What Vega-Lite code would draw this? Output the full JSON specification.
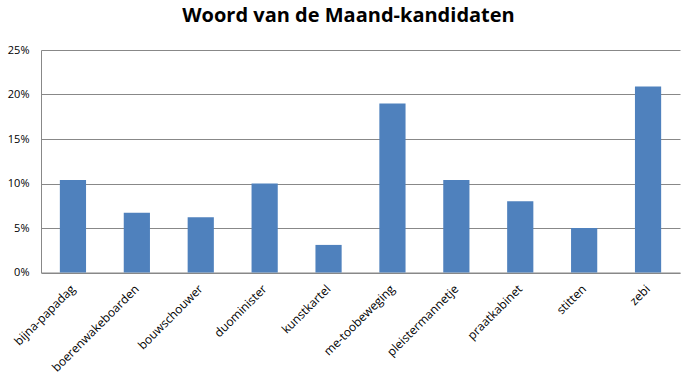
{
  "$schema": "https://vega.github.io/schema/vega-lite/v6.json",
  "width": 639,
  "height": 222.5,
  "autosize": {"type": "none"},
  "padding": {"left": 41, "top": 50, "right": 15, "bottom": 105},
  "background": "white",
  "title": {
    "text": "Woord van de Maand-kandidaten",
    "font": "Open Sans",
    "fontSize": 20,
    "fontWeight": "bold",
    "color": "#000000",
    "anchor": "middle",
    "dx": -12,
    "offset": 18
  },
  "data": {
    "values": [
      {"woord": "bijna-papadag", "pct": 0.104},
      {"woord": "boerenwakeboarden", "pct": 0.067},
      {"woord": "bouwschouwer", "pct": 0.062},
      {"woord": "duominister", "pct": 0.100},
      {"woord": "kunstkartel", "pct": 0.031},
      {"woord": "me-toobeweging", "pct": 0.190},
      {"woord": "pleistermannetje", "pct": 0.104},
      {"woord": "praatkabinet", "pct": 0.080},
      {"woord": "stitten", "pct": 0.050},
      {"woord": "zebi", "pct": 0.209}
    ]
  },
  "mark": {"type": "bar", "color": "#4F81BD"},
  "encoding": {
    "x": {
      "field": "woord",
      "type": "nominal",
      "sort": null,
      "scale": {"paddingInner": 0.59, "paddingOuter": 0.295},
      "axis": {
        "title": null,
        "labelAngle": -45,
        "labelAlign": "right",
        "labelBaseline": "middle",
        "labelFont": "Open Sans",
        "labelFontSize": 12,
        "labelColor": "#000000",
        "labelPadding": 14,
        "labelDx": 9,
        "ticks": false,
        "domainColor": "#888888",
        "grid": false
      }
    },
    "y": {
      "field": "pct",
      "type": "quantitative",
      "scale": {"domain": [0, 0.25], "nice": false},
      "axis": {
        "title": null,
        "format": ".0%",
        "values": [0, 0.05, 0.1, 0.15, 0.2, 0.25],
        "labelFont": "Open Sans",
        "labelFontSize": 11,
        "labelColor": "#000000",
        "labelPadding": 12,
        "ticks": false,
        "domainColor": "#888888",
        "gridColor": "#888888",
        "gridOpacity": 1
      }
    }
  },
  "config": {"view": {"stroke": null}}
}
